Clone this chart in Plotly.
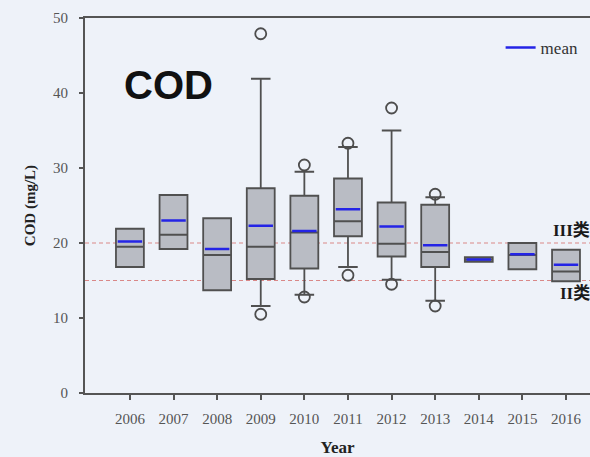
import plotly.graph_objects as go

YEARS = [2006, 2007, 2008, 2009, 2010, 2011, 2012, 2013, 2014, 2015, 2016]
Q1 = [16.8, 19.2, 13.7, 15.2, 16.6, 20.9, 18.2, 16.8, 17.5, 16.5, 14.9]
MEDIAN = [19.5, 21.1, 18.4, 19.5, 21.4, 22.9, 19.9, 18.8, 17.8, 18.4, 16.2]
Q3 = [21.9, 26.4, 23.3, 27.3, 26.3, 28.6, 25.4, 25.1, 18.1, 20.0, 19.1]
LOWER = [16.8, 19.2, 13.7, 11.6, 13.1, 16.8, 15.1, 12.3, 17.5, 16.5, 14.9]
UPPER = [21.9, 26.4, 23.3, 41.9, 29.5, 32.8, 35.0, 26.1, 18.1, 20.0, 19.1]
MEAN = [20.2, 23.0, 19.2, 22.3, 21.6, 24.5, 22.2, 19.7, 17.8, 18.5, 17.1]
OUTLIER_X = [2009, 2009, 2010, 2010, 2011, 2011, 2012, 2012, 2013, 2013]
OUTLIER_Y = [47.9, 10.5, 30.4, 12.8, 33.3, 15.7, 38.0, 14.5, 26.5, 11.6]
THRESHOLDS = [20, 15]
THRESHOLD_LABELS = ["III类", "II类"]
TICK_VALUES = [0, 10, 20, 30, 40, 50]

BOX_W = 0.64
BG = "#eef2f9"
AX = "#555555"
SERIF = "Liberation Serif, Noto Sans CJK SC"

fig = go.Figure()

fig.add_trace(go.Box(
    x=YEARS, q1=Q1, median=MEDIAN, q3=Q3, lowerfence=LOWER, upperfence=UPPER,
    width=BOX_W, whiskerwidth=0.7, boxpoints=False,
    fillcolor="#b9bcc4", line=dict(color="#505050", width=1.8),
    showlegend=False, hoverinfo="skip",
))

mx, my = [], []
for yr, m in zip(YEARS, MEAN):
    mx += [yr - BOX_W / 2 + 0.04, yr + BOX_W / 2 - 0.04, None]
    my += [m, m, None]
fig.add_trace(go.Scatter(
    x=mx, y=my, mode="lines", line=dict(color="#2424e6", width=2.5),
    name="mean", showlegend=True, hoverinfo="skip",
))

fig.add_trace(go.Scatter(
    x=OUTLIER_X, y=OUTLIER_Y, mode="markers",
    marker=dict(symbol="circle-open", size=11, color="#4d4d4d", line=dict(width=1.8)),
    showlegend=False, hoverinfo="skip",
))

for t in THRESHOLDS:
    fig.add_shape(type="line", xref="paper", x0=0, x1=1, yref="y", y0=t, y1=t,
                  line=dict(color="#d98888", width=1.2, dash="4px,3px"), layer="below")

for t, lab, xpos in zip(THRESHOLDS, THRESHOLD_LABELS, [2015.66, 2015.82]):
    fig.add_annotation(x=xpos, y=t, xref="x", yref="y", text=f"<b>{lab}</b>",
                       showarrow=False, xanchor="left",
                       yshift=13 if t == THRESHOLDS[0] else -13,
                       font=dict(family=SERIF, size=17, color="#1a1a1a"))

fig.add_annotation(x=2006.89, y=41.1, xref="x", yref="y", text="<b>COD</b>",
                   showarrow=False, font=dict(family="Liberation Sans", size=40, color="#111111"))

fig.update_layout(
    width=590, height=457,
    margin=dict(l=85, r=0, t=18, b=64),
    paper_bgcolor=BG, plot_bgcolor=BG,
    font=dict(family=SERIF, size=16, color=AX),
    legend=dict(x=0.823, y=0.92, xanchor="left", yanchor="middle",
                bgcolor="rgba(0,0,0,0)", font=dict(family=SERIF, size=17, color="#333333")),
    xaxis=dict(range=[2004.97, 2016.55], tickmode="array", tickvals=YEARS,
               ticktext=[str(y) for y in YEARS], showgrid=False, zeroline=False,
               showline=True, linecolor=AX, linewidth=2, mirror=True,
               ticks="outside", ticklen=5, tickwidth=1.5, tickcolor=AX,
               ticklabelstandoff=6, tickfont=dict(size=15, color="#555555"),
               title=dict(text="<b>Year</b>", font=dict(family=SERIF, size=17, color="#222222"), standoff=18)),
    yaxis=dict(range=[0, 50], tickmode="array", tickvals=TICK_VALUES, showgrid=False,
               zeroline=False, showline=True, linecolor=AX, linewidth=2, mirror=False,
               ticks="outside", ticklen=4, tickwidth=1.5, tickcolor=AX,
               ticklabelstandoff=8, tickfont=dict(size=15, color="#555555"),
               title=dict(text="<b>COD (mg/L)</b>", font=dict(family=SERIF, size=15, color="#222222"), standoff=14)),
)

fig.write_html("out.html")
